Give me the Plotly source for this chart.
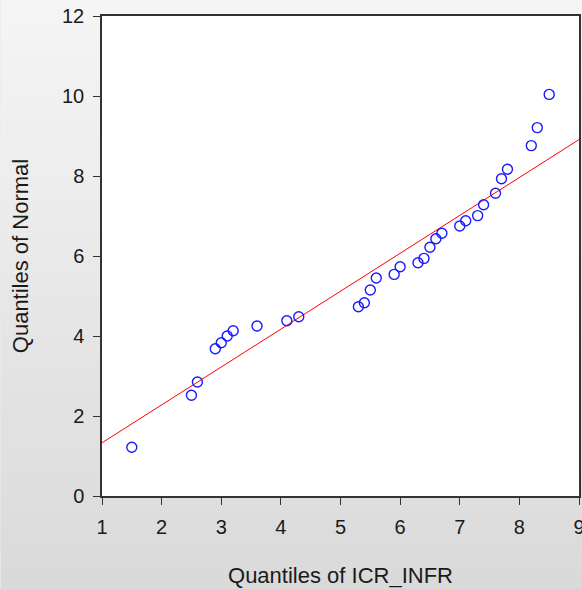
import plotly.graph_objects as go

# Data
icr_infr = [1.5, 2.5, 2.6, 2.9, 3.0, 3.1, 3.2, 3.6, 4.1, 4.3, 5.3, 5.4, 5.5, 5.6,
            5.9, 6.0, 6.3, 6.4, 6.5, 6.6, 6.7, 7.0, 7.1, 7.3, 7.4, 7.6, 7.7, 7.8,
            8.2, 8.3, 8.5]
normal_q = [1.22, 2.52, 2.85, 3.68, 3.83, 4.0, 4.13, 4.25, 4.38, 4.48, 4.73, 4.83,
            5.15, 5.45, 5.54, 5.73, 5.83, 5.94, 6.22, 6.43, 6.57, 6.75, 6.88, 7.01,
            7.28, 7.57, 7.93, 8.17, 8.76, 9.21, 10.04]
line_x = [1, 9]
line_y = [1.33, 8.91]

x_ticks = [1, 2, 3, 4, 5, 6, 7, 8, 9]
y_ticks = [0, 2, 4, 6, 8, 10, 12]

W, H = 582, 589
ML, MR, MT, MB = 102, 0, 16, 93
pw, ph = W - ML - MR, H - MT - MB

fig = go.Figure()
fig.add_trace(go.Scatter(x=line_x, y=line_y, mode="lines",
                         line=dict(color="#ff0000", width=1), showlegend=False,
                         cliponaxis=True))
fig.add_trace(go.Scatter(x=icr_infr, y=normal_q, mode="markers",
                         marker=dict(symbol="circle-open", size=10,
                                     color="#1a1aff", line=dict(width=1.4)),
                         showlegend=False))

# gradient background bands (paper coords)
shapes = []
n = 30
y_bot = -MB / ph
y_top = 1 + MT / ph
x_l = -ML / pw
x_r = 1 + 20 / pw
c_top = (245, 245, 245)
c_bot = (218, 218, 218)
for i in range(n):
    t = i / (n - 1)
    c = tuple(int(round(c_top[k] + (c_bot[k] - c_top[k]) * t)) for k in range(3))
    y1 = y_top - (y_top - y_bot) * i / n
    y0 = y_top - (y_top - y_bot) * (i + 1) / n
    shapes.append(dict(type="rect", xref="paper", yref="paper", x0=x_l, x1=x_r,
                       y0=y0 - 0.002, y1=y1, fillcolor="rgb(%d,%d,%d)" % c,
                       line=dict(width=0), layer="below"))
shapes.append(dict(type="rect", xref="paper", yref="paper", x0=0, x1=1, y0=0, y1=1,
                   fillcolor="white", line=dict(width=0), layer="below"))

fig.update_layout(
    width=W + 3, height=H,
    margin=dict(l=ML, r=MR, t=MT, b=MB, pad=0),
    paper_bgcolor="#ebebeb",
    plot_bgcolor="white",
    shapes=shapes,
    font=dict(family="Liberation Sans, Arial, sans-serif", size=20, color="#1a1a1a"),
    xaxis=dict(range=[1, 9], tickvals=x_ticks, ticks="outside", ticklen=7,
               tickwidth=1.3, tickcolor="#333", showgrid=False, zeroline=False,
               showline=True, linecolor="#333", linewidth=1.5, mirror=True,
               ticklabelstandoff=5, tickfont=dict(size=20),
               ticklabeloverflow="allow",
               title=dict(text="Quantiles of ICR_INFR", standoff=31,
                          font=dict(size=22))),
    yaxis=dict(range=[0, 12], tickvals=y_ticks, ticks="outside", ticklen=7,
               tickwidth=1.3, tickcolor="#333", showgrid=False, zeroline=False,
               showline=True, linecolor="#333", linewidth=1.5, mirror=True,
               ticklabelstandoff=5, tickfont=dict(size=20),
               ticklabeloverflow="allow",
               title=dict(text="Quantiles of Normal", standoff=27,
                          font=dict(size=22))),
)

fig.write_html("out.html")
